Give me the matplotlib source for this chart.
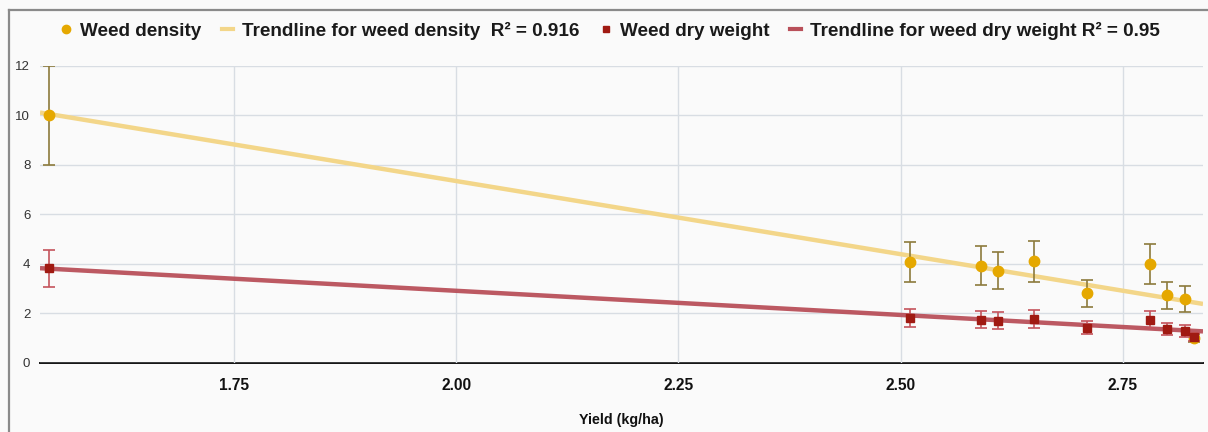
import numpy as np
import matplotlib
matplotlib.use("Agg")
import matplotlib.pyplot as plt
from matplotlib.lines import Line2D

# ---- data ----
yield_vals = [1.542, 2.51, 2.59, 2.61, 2.65, 2.71, 2.78, 2.80, 2.82, 2.83]
density = [10.0, 4.06, 3.92, 3.72, 4.10, 2.80, 3.99, 2.72, 2.56, 1.0]
density_err = [2.0, 0.81, 0.78, 0.74, 0.83, 0.56, 0.80, 0.55, 0.52, 0.15]
dry_weight = [3.81, 1.79, 1.74, 1.70, 1.78, 1.41, 1.74, 1.36, 1.29, 1.03]
dry_weight_err = [0.76, 0.36, 0.35, 0.34, 0.36, 0.27, 0.35, 0.25, 0.24, 0.15]
x_ticks = [1.75, 2.00, 2.25, 2.50, 2.75]
y_ticks = [0, 2, 4, 6, 8, 10, 12]
legend_labels = ["Weed density",
                 "Trendline for weed density  R\u00b2 = 0.916",
                 "Weed dry weight",
                 "Trendline for weed dry weight R\u00b2 = 0.95"]

plt.rcParams['font.family'] = ['Liberation Sans', 'DejaVu Sans']

W, H = 1208, 432
fig = plt.figure(figsize=(W / 100, H / 100), dpi=100)
bg = '#fafafa'
fig.patch.set_facecolor(bg)

ax = fig.add_axes([40 / W, (H - 362.7) / H, (1203 - 40) / W, (362.7 - 65.7) / H])
ax.set_facecolor(bg)

xmin, xmax = 1.532, 2.84
ax.set_xlim(xmin, xmax)
ax.set_ylim(0, 12)

c_den = '#e5a800'
c_den_err = '#8c7a3c'
c_den_trend = '#f3d689'
c_dry = '#a01a12'
c_dry_err = '#c4545c'
c_dry_trend = '#b9505a'

x = np.array(yield_vals)
xs = np.array([xmin, xmax])

# trendlines (least squares)
p_den = np.polyfit(x, np.array(density), 1)
p_dry = np.polyfit(x, np.array(dry_weight), 1)
ax.plot(xs, np.polyval(p_den, xs), color=c_den_trend, lw=3.2, zorder=2, solid_capstyle='butt')
ax.plot(xs, np.polyval(p_dry, xs), color=c_dry_trend, lw=3.2, zorder=2, alpha=0.95,
        solid_capstyle='butt')

# error bars + markers
ax.errorbar(x, density, yerr=density_err, fmt='none', ecolor=c_den_err, elinewidth=1.2,
            capsize=4.3, capthick=1.2, zorder=3)
ax.plot(x, density, 'o', color=c_den, ms=7.5, mec=c_den, zorder=4, linestyle='none')
ax.errorbar(x, dry_weight, yerr=dry_weight_err, fmt='none', ecolor=c_dry_err, elinewidth=1.2,
            capsize=4.3, capthick=1.2, zorder=5)
ax.plot(x, dry_weight, 's', color=c_dry, ms=6.2, mec=c_dry, zorder=6, linestyle='none')

# axes styling
ax.set_xticks(x_ticks)
ax.set_xticklabels([f"{v:.2f}" for v in x_ticks], fontweight='bold', fontsize=11.2, color='#111111')
ax.set_yticks(y_ticks)
ax.set_yticklabels([str(v) for v in y_ticks], fontsize=9.5, color='#333333')
ax.tick_params(axis='x', length=0, pad=11)
ax.tick_params(axis='y', length=0, pad=7)
ax.grid(True, color='#d8dde3', lw=1.0, zorder=0)
for s in ['top', 'right', 'left']:
    ax.spines[s].set_visible(False)
ax.spines['bottom'].set_color('#111111')
ax.spines['bottom'].set_linewidth(1.4)
ax.spines['bottom'].set_zorder(1)

fig.text(621.5 / W, 1 - 420 / H, "Yield (kg/ha)", ha='center', va='center',
         fontweight='bold', fontsize=10.3, color='#111111')

handles = [
    Line2D([], [], marker='o', color=c_den, linestyle='none', ms=6),
    Line2D([], [], color=c_den_trend, lw=3),
    Line2D([], [], marker='s', color=c_dry, linestyle='none', ms=5),
    Line2D([], [], color=c_dry_trend, lw=3),
]
leg = fig.legend(handles, legend_labels, loc='center', bbox_to_anchor=(610 / W, 1 - 31 / H),
                 ncol=4, frameon=False, fontsize=13.6, handlelength=0.6, handletextpad=0.45,
                 columnspacing=1.1, borderaxespad=0)
for t in leg.get_texts():
    t.set_fontweight('bold')
    t.set_color('#1a1a1a')

# outer frame (top and left)
fig.add_artist(Line2D([9 / W, 1], [1 - 10 / H, 1 - 10 / H], transform=fig.transFigure,
                      color='#8a8a8a', lw=1.6))
fig.add_artist(Line2D([9 / W, 9 / W], [0, 1 - 10 / H], transform=fig.transFigure,
                      color='#8a8a8a', lw=1.6))

fig.savefig('out.png', dpi=100, facecolor=bg)
